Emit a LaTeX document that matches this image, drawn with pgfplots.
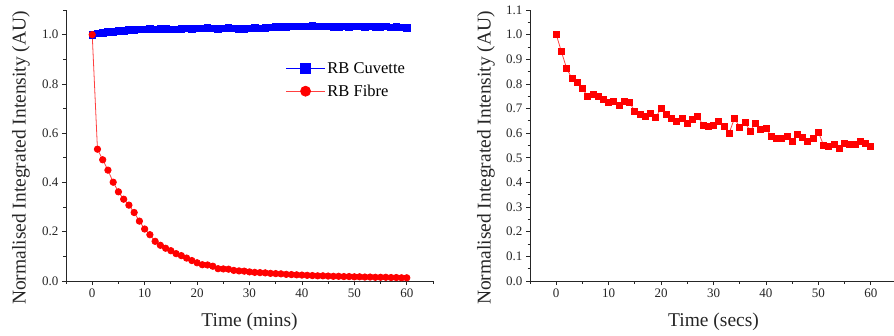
\documentclass[border=0pt]{standalone}
\usepackage{fontspec}
\setmainfont{Liberation Serif}
\usepackage{pgfplots}
\pgfplotsset{compat=1.18}
\usepackage{pgfplotstable}

\pgfplotstableread{
x y
0 1.000
1 1.005
2 1.008
3 1.010
4 1.012
5 1.015
6 1.015
7 1.018
8 1.020
9 1.022
10 1.022
11 1.024
12 1.022
13 1.023
14 1.024
15 1.022
16 1.021
17 1.024
18 1.025
19 1.023
20 1.025
21 1.026
22 1.027
23 1.026
24 1.024
25 1.026
26 1.027
27 1.025
28 1.023
29 1.024
30 1.026
31 1.027
32 1.025
33 1.028
34 1.030
35 1.031
36 1.032
37 1.032
38 1.033
39 1.034
40 1.034
41 1.033
42 1.035
43 1.034
44 1.033
45 1.034
46 1.032
47 1.031
48 1.033
49 1.032
50 1.034
51 1.033
52 1.032
53 1.033
54 1.032
55 1.031
56 1.033
57 1.030
58 1.032
59 1.030
60 1.028
}\cuvette

\pgfplotstableread{
x y
0 1.000
1 0.535
2 0.492
3 0.450
4 0.401
5 0.362
6 0.332
7 0.308
8 0.278
9 0.243
10 0.211
11 0.188
12 0.161
13 0.145
14 0.133
15 0.123
16 0.111
17 0.103
18 0.093
19 0.083
20 0.074
21 0.066
22 0.065
23 0.060
24 0.050
25 0.049
26 0.048
27 0.043
28 0.041
29 0.040
30 0.037
31 0.035
32 0.034
33 0.033
34 0.031
35 0.030
36 0.029
37 0.027
38 0.026
39 0.025
40 0.024
41 0.023
42 0.022
43 0.021
44 0.021
45 0.020
46 0.019
47 0.019
48 0.018
49 0.018
50 0.017
51 0.017
52 0.016
53 0.016
54 0.015
55 0.015
56 0.015
57 0.014
58 0.014
59 0.013
60 0.013
}\fibre

\pgfplotstableread{
x y
0 1.001
1 0.930
2 0.862
3 0.823
4 0.808
5 0.781
6 0.749
7 0.757
8 0.749
9 0.736
10 0.723
11 0.730
12 0.711
13 0.728
14 0.724
15 0.689
16 0.677
17 0.668
18 0.681
19 0.665
20 0.701
21 0.677
22 0.658
23 0.646
24 0.658
25 0.639
26 0.657
27 0.670
28 0.632
29 0.628
30 0.632
31 0.647
32 0.626
33 0.601
34 0.661
35 0.624
36 0.643
37 0.609
38 0.639
39 0.614
40 0.620
41 0.588
42 0.578
43 0.577
44 0.586
45 0.568
46 0.596
47 0.584
48 0.568
49 0.580
50 0.604
51 0.551
52 0.545
53 0.555
54 0.539
55 0.558
56 0.554
57 0.553
58 0.566
59 0.558
60 0.547
}\secs

\pgfplotsset{
  myaxis/.style={
    scale only axis,
    width=367bp, height=271bp,
    xmin=-5, xmax=65, ymin=0, ymax=1.1,
    axis x line=bottom, axis y line=left,
    axis line style={-, line width=0.8bp, black!85},
    tick style={line width=0.8bp, black!85},
    tick align=outside,
    major tick length=4bp, minor tick length=2.5bp,
    xtick={0,10,...,60},
    minor xtick={-5,5,...,65},
    /pgf/number format/assume math mode=true,
    tick label style={font=\fontsize{13bp}{15bp}\selectfont, text=black!85},
    label style={font=\fontsize{19.5bp}{22bp}\selectfont, text=black!85},
    yticklabel style={/pgf/number format/.cd, fixed, fixed zerofill, precision=1},
    xticklabel style={/pgf/number format/.cd, fixed, precision=0},
    xlabel style={at={(axis description cs:0.5,-0.15)}, anchor=center},
    ylabel style={at={(axis description cs:-0.123,0.454)}, anchor=center},
    clip=false,
  }
}

\begin{document}
\begin{tikzpicture}
\useasboundingbox (0,0) rectangle (894bp,336bp);
\begin{axis}[myaxis,
  at={(66bp,55bp)}, anchor=south west,
  ytick={0,0.2,...,1.0},
  minor ytick={0.1,0.3,...,1.1},
  xlabel={Time (mins)},
  ylabel={Normalised Integrated Intensity (AU)},
  legend style={draw=none, fill=none, at={(axis description cs:0.598,0.815)}, anchor=north west,
    font=\fontsize{16.5bp}{19bp}\selectfont, row sep=6bp, inner sep=0pt},
  legend cell align=left,
  legend image code/.code={\draw[mark repeat=2, mark phase=2, #1, mark size=5bp] plot coordinates {(0bp,0bp) (19.5bp,0bp) (39bp,0bp)};},
]
\addplot[blue, line width=0.8bp, mark=square*, mark size=3.3bp, mark options={solid, fill=blue, draw=blue}] table[x=x,y=y] {\cuvette};
\addlegendentry{RB Cuvette}
\addplot[red!75, line width=0.8bp, mark=*, mark size=3.2bp, mark options={fill=red, draw=red}] table[x=x,y=y] {\fibre};
\addlegendentry{RB Fibre}
\end{axis}

\begin{axis}[myaxis,
  at={(530bp,55bp)}, anchor=south west,
  ytick={0,0.1,...,1.1},
  minor ytick={0.05,0.15,...,1.05},
  xlabel={Time (secs)},
  ylabel={Normalised Integrated Intensity (AU)},
  ylabel style={at={(axis description cs:-0.12,0.454)}, anchor=center},
]
\addplot[red!75, line width=0.8bp, mark=square*, mark size=3bp, mark options={fill=red, draw=red}] table[x=x,y=y] {\secs};
\end{axis}
\end{tikzpicture}
\end{document}
